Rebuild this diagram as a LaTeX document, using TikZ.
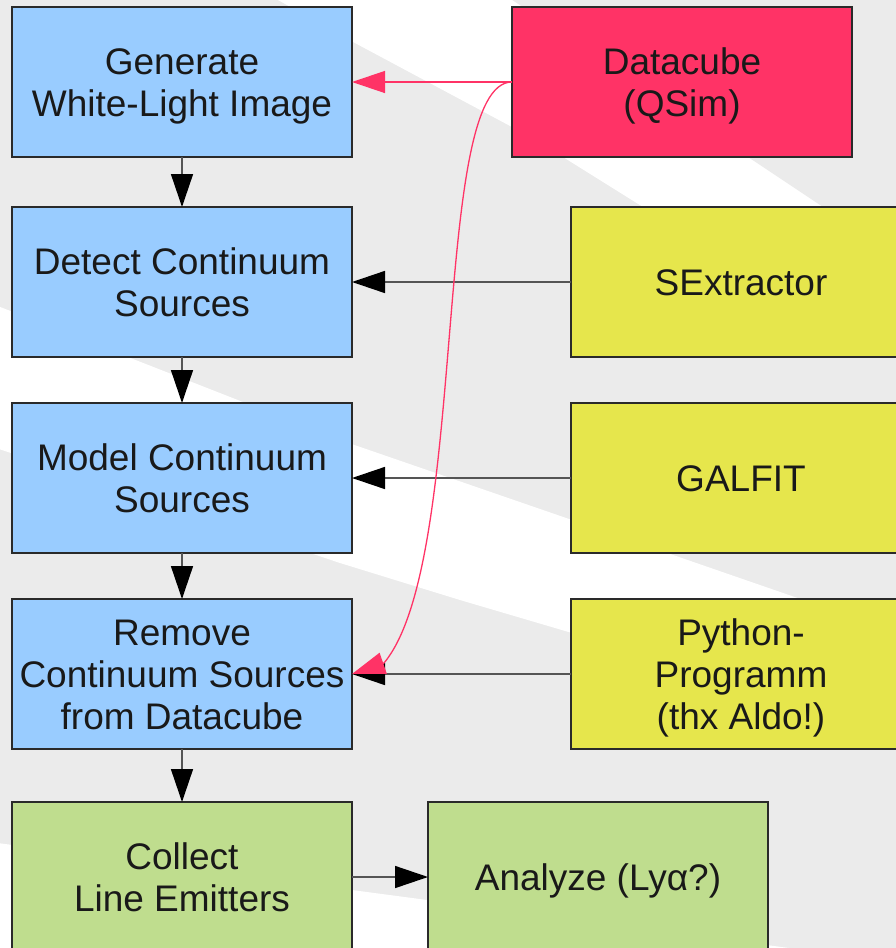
\documentclass[tikz,border=0pt]{standalone}
\usepackage{fontspec}
\setmainfont{Liberation Sans}
\usetikzlibrary{arrows.meta,calc}
\definecolor{bggrey}{HTML}{EBEBEB}
\definecolor{boxblue}{HTML}{99CCFF}
\definecolor{boxred}{HTML}{FF3366}
\definecolor{boxyellow}{HTML}{E6E64C}
\definecolor{boxgreen}{HTML}{BFDD8E}
\definecolor{edge}{HTML}{2A2A2A}
\definecolor{linegrey}{HTML}{555555}
\newcommand{\topstrut}{\rule{0pt}{35pt}}
\newcommand{\botstrut}{\rule[-7.8pt]{0pt}{7.8pt}}
\begin{document}
\begin{tikzpicture}[x=1pt,y=-1pt,
  box/.style={draw=edge, line width=1.3pt, minimum width=340pt, minimum height=150pt,
    inner sep=0pt, outer sep=0pt, align=center, font=\fontsize{37}{42}\selectfont, text=black!90,
    execute at end node={\botstrut}},
  bluebox/.style={box, fill=boxblue},
  redbox/.style={box, fill=boxred},
  yellowbox/.style={box, fill=boxyellow},
  greenbox/.style={box, fill=boxgreen},
  arr/.style={draw=linegrey, line width=1.5pt, -{Triangle[length=33pt,width=22pt,color=black]}},
  redarr/.style={draw=boxred, line width=1.3pt, -{Triangle[length=33pt,width=22pt,color=boxred]}}
]
\useasboundingbox (0,0) rectangle (896,948);
\clip (0,0) rectangle (896,948);
% background
\fill[bggrey] (0,0) rectangle (896,948);
\fill[white] (278,0) -- (512,0) -- (1000,325) -- (1000,421) -- (643,207) -- (563,157) -- (512,127) -- (340,35) -- cycle;
\fill[white] (-10,303) -- (340,440) -- (572,520) -- (1000,668) -- (1000,761) -- (572,633) -- (460,600) -- (340,563) -- (-10,446) -- cycle;
\fill[white] (-10,842) -- (1000,976) -- (1000,1100) -- (-10,1100) -- cycle;

% boxes
\node[bluebox] (gen) at (182,82) {\topstrut Generate\\White-Light Image};
\node[bluebox] (det) at (182,282) {\topstrut Detect Continuum\\Sources};
\node[bluebox] (mod) at (182,478) {\topstrut Model Continuum\\Sources};
\node[bluebox] (rem) at (182,674) {\topstrut Remove\\Continuum Sources\\from Datacube};
\node[greenbox] (col) at (182,877) {\topstrut Collect\\Line Emitters};
\node[greenbox] (ana) at (598,877) {\topstrut Analyze (Lyα?)};
\node[redbox] (dc) at (682,82) {\topstrut Datacube\\(QSim)};
\node[yellowbox] (sex) at (741,282) {\topstrut SExtractor};
\node[yellowbox] (gal) at (741,478) {\topstrut GALFIT};
\node[yellowbox] (py) at (741,674) {\topstrut Python-\\Programm\\(thx Aldo!)};

% arrows
\draw[arr] (gen.south) -- (det.north);
\draw[arr] (det.south) -- (mod.north);
\draw[arr] (mod.south) -- (rem.north);
\draw[arr] (rem.south) -- (col.north);
\draw[arr] (col.east) -- (ana.west);
\draw[arr] (sex.west) -- (det.east);
\draw[arr] (gal.west) -- (mod.east);
\draw[arr] (py.west) -- (rem.east);
\draw[redarr] (dc.west) -- (gen.east);
\draw[redarr] (dc.west) .. controls (430,82) and (470,560) .. ($(rem.east)+(32,-11)$) -- (rem.east);
\end{tikzpicture}
\end{document}
